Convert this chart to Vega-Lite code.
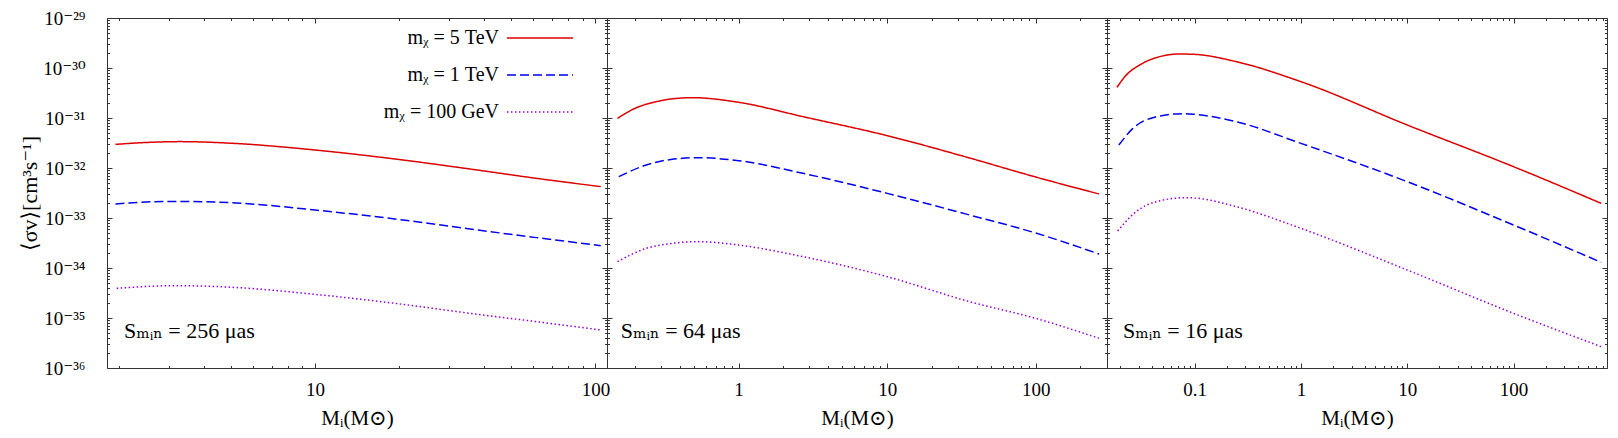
{
  "$schema": "https://vega.github.io/schema/vega-lite/v6.json",
  "background": "white",
  "padding": {"left": 18, "top": 8, "right": 10, "bottom": 5},
  "bounds": "flush",
  "datasets": {
    "curves": [
      {"panel": "p1", "series": "mᵪ = 5 TeV", "M": 1.94, "sv": 2.97e-32},
      {"panel": "p1", "series": "mᵪ = 5 TeV", "M": 2.5, "sv": 3.24e-32},
      {"panel": "p1", "series": "mᵪ = 5 TeV", "M": 3.29, "sv": 3.37e-32},
      {"panel": "p1", "series": "mᵪ = 5 TeV", "M": 5.23, "sv": 3.09e-32},
      {"panel": "p1", "series": "mᵪ = 5 TeV", "M": 10, "sv": 2.29e-32},
      {"panel": "p1", "series": "mᵪ = 5 TeV", "M": 20.6, "sv": 1.445e-32},
      {"panel": "p1", "series": "mᵪ = 5 TeV", "M": 35.7, "sv": 9.55e-33},
      {"panel": "p1", "series": "mᵪ = 5 TeV", "M": 61.6, "sv": 6.21e-33},
      {"panel": "p1", "series": "mᵪ = 5 TeV", "M": 104.5, "sv": 4.24e-33},
      {"panel": "p1", "series": "mᵪ = 1 TeV", "M": 1.94, "sv": 1.905e-33},
      {"panel": "p1", "series": "mᵪ = 1 TeV", "M": 2.5, "sv": 2.09e-33},
      {"panel": "p1", "series": "mᵪ = 1 TeV", "M": 3.2, "sv": 2.15e-33},
      {"panel": "p1", "series": "mᵪ = 1 TeV", "M": 5.23, "sv": 2.0e-33},
      {"panel": "p1", "series": "mᵪ = 1 TeV", "M": 10, "sv": 1.445e-33},
      {"panel": "p1", "series": "mᵪ = 1 TeV", "M": 20.6, "sv": 9.12e-34},
      {"panel": "p1", "series": "mᵪ = 1 TeV", "M": 35.7, "sv": 6.03e-34},
      {"panel": "p1", "series": "mᵪ = 1 TeV", "M": 61.6, "sv": 4.05e-34},
      {"panel": "p1", "series": "mᵪ = 1 TeV", "M": 104.5, "sv": 2.8e-34},
      {"panel": "p1", "series": "mᵪ = 100 GeV", "M": 1.96, "sv": 3.92e-35},
      {"panel": "p1", "series": "mᵪ = 100 GeV", "M": 2.5, "sv": 4.27e-35},
      {"panel": "p1", "series": "mᵪ = 100 GeV", "M": 3.2, "sv": 4.44e-35},
      {"panel": "p1", "series": "mᵪ = 100 GeV", "M": 5.23, "sv": 4.07e-35},
      {"panel": "p1", "series": "mᵪ = 100 GeV", "M": 10, "sv": 2.97e-35},
      {"panel": "p1", "series": "mᵪ = 100 GeV", "M": 20.6, "sv": 1.875e-35},
      {"panel": "p1", "series": "mᵪ = 100 GeV", "M": 35.7, "sv": 1.24e-35},
      {"panel": "p1", "series": "mᵪ = 100 GeV", "M": 61.6, "sv": 8.45e-36},
      {"panel": "p1", "series": "mᵪ = 100 GeV", "M": 104.5, "sv": 5.75e-36},
      {"panel": "p2", "series": "mᵪ = 5 TeV", "M": 0.153, "sv": 9.84e-32},
      {"panel": "p2", "series": "mᵪ = 5 TeV", "M": 0.194, "sv": 1.49e-31},
      {"panel": "p2", "series": "mᵪ = 5 TeV", "M": 0.294, "sv": 2.19e-31},
      {"panel": "p2", "series": "mᵪ = 5 TeV", "M": 0.35, "sv": 2.4e-31},
      {"panel": "p2", "series": "mᵪ = 5 TeV", "M": 0.492, "sv": 2.55e-31},
      {"panel": "p2", "series": "mᵪ = 5 TeV", "M": 1, "sv": 2.06e-31},
      {"panel": "p2", "series": "mᵪ = 5 TeV", "M": 2.71, "sv": 1.064e-31},
      {"panel": "p2", "series": "mᵪ = 5 TeV", "M": 10, "sv": 4.44e-32},
      {"panel": "p2", "series": "mᵪ = 5 TeV", "M": 35.9, "sv": 1.585e-32},
      {"panel": "p2", "series": "mᵪ = 5 TeV", "M": 100, "sv": 6.6e-33},
      {"panel": "p2", "series": "mᵪ = 5 TeV", "M": 267, "sv": 3.02e-33},
      {"panel": "p2", "series": "mᵪ = 1 TeV", "M": 0.156, "sv": 6.71e-33},
      {"panel": "p2", "series": "mᵪ = 1 TeV", "M": 0.239, "sv": 1.148e-32},
      {"panel": "p2", "series": "mᵪ = 1 TeV", "M": 0.35, "sv": 1.48e-32},
      {"panel": "p2", "series": "mᵪ = 1 TeV", "M": 0.532, "sv": 1.61e-32},
      {"panel": "p2", "series": "mᵪ = 1 TeV", "M": 1, "sv": 1.403e-32},
      {"panel": "p2", "series": "mᵪ = 1 TeV", "M": 2.71, "sv": 7.82e-33},
      {"panel": "p2", "series": "mᵪ = 1 TeV", "M": 10, "sv": 3.11e-33},
      {"panel": "p2", "series": "mᵪ = 1 TeV", "M": 35.9, "sv": 1.148e-33},
      {"panel": "p2", "series": "mᵪ = 1 TeV", "M": 100, "sv": 5.01e-34},
      {"panel": "p2", "series": "mᵪ = 1 TeV", "M": 267, "sv": 1.905e-34},
      {"panel": "p2", "series": "mᵪ = 100 GeV", "M": 0.153, "sv": 1.34e-34},
      {"panel": "p2", "series": "mᵪ = 100 GeV", "M": 0.239, "sv": 2.47e-34},
      {"panel": "p2", "series": "mᵪ = 100 GeV", "M": 0.35, "sv": 3.09e-34},
      {"panel": "p2", "series": "mᵪ = 100 GeV", "M": 0.532, "sv": 3.37e-34},
      {"panel": "p2", "series": "mᵪ = 100 GeV", "M": 1, "sv": 2.88e-34},
      {"panel": "p2", "series": "mᵪ = 100 GeV", "M": 2.71, "sv": 1.687e-34},
      {"panel": "p2", "series": "mᵪ = 100 GeV", "M": 10, "sv": 6.71e-35},
      {"panel": "p2", "series": "mᵪ = 100 GeV", "M": 35.9, "sv": 2.12e-35},
      {"panel": "p2", "series": "mᵪ = 100 GeV", "M": 100, "sv": 9.84e-36},
      {"panel": "p2", "series": "mᵪ = 100 GeV", "M": 267, "sv": 3.92e-36},
      {"panel": "p3", "series": "mᵪ = 5 TeV", "M": 0.0186, "sv": 4.1e-31},
      {"panel": "p3", "series": "mᵪ = 5 TeV", "M": 0.0228, "sv": 7.24e-31},
      {"panel": "p3", "series": "mᵪ = 5 TeV", "M": 0.0304, "sv": 1.148e-30},
      {"panel": "p3", "series": "mᵪ = 5 TeV", "M": 0.0435, "sv": 1.61e-30},
      {"panel": "p3", "series": "mᵪ = 5 TeV", "M": 0.0722, "sv": 1.905e-30},
      {"panel": "p3", "series": "mᵪ = 5 TeV", "M": 0.1, "sv": 1.875e-30},
      {"panel": "p3", "series": "mᵪ = 5 TeV", "M": 0.246, "sv": 1.34e-30},
      {"panel": "p3", "series": "mᵪ = 5 TeV", "M": 1, "sv": 5.33e-31},
      {"panel": "p3", "series": "mᵪ = 5 TeV", "M": 10, "sv": 7.24e-32},
      {"panel": "p3", "series": "mᵪ = 5 TeV", "M": 100, "sv": 1.064e-32},
      {"panel": "p3", "series": "mᵪ = 5 TeV", "M": 668, "sv": 1.963e-33},
      {"panel": "p3", "series": "mᵪ = 1 TeV", "M": 0.0194, "sv": 2.88e-32},
      {"panel": "p3", "series": "mᵪ = 1 TeV", "M": 0.0263, "sv": 6.21e-32},
      {"panel": "p3", "series": "mᵪ = 1 TeV", "M": 0.0406, "sv": 1.016e-31},
      {"panel": "p3", "series": "mᵪ = 1 TeV", "M": 0.0776, "sv": 1.222e-31},
      {"panel": "p3", "series": "mᵪ = 1 TeV", "M": 0.1, "sv": 1.183e-31},
      {"panel": "p3", "series": "mᵪ = 1 TeV", "M": 0.246, "sv": 8.45e-32},
      {"panel": "p3", "series": "mᵪ = 1 TeV", "M": 1, "sv": 3.11e-32},
      {"panel": "p3", "series": "mᵪ = 1 TeV", "M": 10, "sv": 5.33e-33},
      {"panel": "p3", "series": "mᵪ = 1 TeV", "M": 100, "sv": 7.24e-34},
      {"panel": "p3", "series": "mᵪ = 1 TeV", "M": 668, "sv": 1.297e-34},
      {"panel": "p3", "series": "mᵪ = 100 GeV", "M": 0.0189, "sv": 5.5e-34},
      {"panel": "p3", "series": "mᵪ = 100 GeV", "M": 0.0282, "sv": 1.34e-33},
      {"panel": "p3", "series": "mᵪ = 100 GeV", "M": 0.0435, "sv": 2.12e-33},
      {"panel": "p3", "series": "mᵪ = 100 GeV", "M": 0.0834, "sv": 2.55e-33},
      {"panel": "p3", "series": "mᵪ = 100 GeV", "M": 0.1, "sv": 2.51e-33},
      {"panel": "p3", "series": "mᵪ = 100 GeV", "M": 0.246, "sv": 1.687e-33},
      {"panel": "p3", "series": "mᵪ = 100 GeV", "M": 1, "sv": 6.21e-34},
      {"panel": "p3", "series": "mᵪ = 100 GeV", "M": 10, "sv": 9.12e-35},
      {"panel": "p3", "series": "mᵪ = 100 GeV", "M": 100, "sv": 1.24e-35},
      {"panel": "p3", "series": "mᵪ = 100 GeV", "M": 668, "sv": 2.67e-36}
    ],
    "notes": [
      {"panel": "p1", "label": "Sₘᵢₙ = 256 μas"},
      {"panel": "p2", "label": "Sₘᵢₙ = 64 μas"},
      {"panel": "p3", "label": "Sₘᵢₙ = 16 μas"}
    ]
  },
  "spacing": 0,
  "hconcat": [
    {
      "width": 500, "height": 350,
      "resolve": {"axis": {"x": "independent", "y": "independent"}},
      "layer": [
        {
          "data": {"name": "curves"},
          "transform": [{"filter": "datum.panel == 'p1' && datum.series == 'mᵪ = 5 TeV'"}],
          "mark": {"type": "line", "strokeWidth": 1.5, "interpolate": "monotone"},
          "encoding": {
            "x": {"field": "M", "type": "quantitative", "scale": {"type": "log", "domain": [1.81, 110], "nice": false},
                  "axis": {"orient": "bottom", "values": [10, 100], "format": "~g", "tickSize": -5, "labelPadding": 17, "labelFlush": false, "labelOverlap": false, "title": "Mᵢ(M⊙)", "titlePadding": 8}},
            "y": {"field": "sv", "type": "quantitative", "scale": {"type": "log", "domain": [1e-36, 1e-29], "nice": false},
                  "axis": {"orient": "left", "values": [1e-36, 1e-35, 1e-34, 1e-33, 1e-32, 1e-31, 1e-30, 1e-29], "tickSize": -5, "labelPadding": 27, "labelOverlap": false,
                           "labelExpr": "'10⁻' + ['⁰','¹','²','³','⁴','⁵','⁶','⁷','⁸','⁹'][floor(round(-log(datum.value)/LN10)/10)] + ['⁰','¹','²','³','⁴','⁵','⁶','⁷','⁸','⁹'][round(-log(datum.value)/LN10)%10]",
                           "title": "⟨σv⟩[cm³s⁻¹]", "titleFontSize": 22, "titlePadding": 1}},
            "color": {"field": "series", "type": "nominal", "scale": {"domain": ["mᵪ = 5 TeV", "mᵪ = 1 TeV", "mᵪ = 100 GeV"], "range": ["#dd0000", "#0000ee", "#9400d3"]}, "legend": {"title": null}},
            "strokeDash": {"field": "series", "type": "nominal", "scale": {"domain": ["mᵪ = 5 TeV", "mᵪ = 1 TeV", "mᵪ = 100 GeV"], "range": [[1, 0], [9, 4], [1.5, 2.5]]}, "legend": {"title": null}}
          }
        },
        {
          "data": {"name": "curves"},
          "transform": [{"filter": "datum.panel == 'p1' && datum.series == 'mᵪ = 1 TeV'"}],
          "mark": {"type": "line", "strokeWidth": 1.5, "interpolate": "monotone"},
          "encoding": {
            "x": {"field": "M", "type": "quantitative", "scale": {"type": "log", "domain": [1.81, 110], "nice": false},
                  "axis": {"orient": "bottom", "values": [2,3,4,5,6,7,8,9,20,30,40,50,60,70,80,90], "labels": false, "tickSize": -2.5, "title": null}},
            "y": {"field": "sv", "type": "quantitative", "scale": {"type": "log", "domain": [1e-36, 1e-29], "nice": false},
                  "axis": {"orient": "left", "values": [2e-36,3e-36,4e-36,5e-36,6e-36,7e-36,8e-36,9e-36,2e-35,3e-35,4e-35,5e-35,6e-35,7e-35,8e-35,9e-35,2e-34,3e-34,4e-34,5e-34,6e-34,7e-34,8e-34,9e-34,2e-33,3e-33,4e-33,5e-33,6e-33,7e-33,8e-33,9e-33,2e-32,3e-32,4e-32,5e-32,6e-32,7e-32,8e-32,9e-32,2e-31,3e-31,4e-31,5e-31,6e-31,7e-31,8e-31,9e-31,2e-30,3e-30,4e-30,5e-30,6e-30,7e-30,8e-30,9e-30], "labels": false, "tickSize": -2.5, "title": null}},
            "color": {"field": "series", "type": "nominal", "scale": {"domain": ["mᵪ = 5 TeV", "mᵪ = 1 TeV", "mᵪ = 100 GeV"], "range": ["#dd0000", "#0000ee", "#9400d3"]}, "legend": {"title": null}},
            "strokeDash": {"field": "series", "type": "nominal", "scale": {"domain": ["mᵪ = 5 TeV", "mᵪ = 1 TeV", "mᵪ = 100 GeV"], "range": [[1, 0], [9, 4], [1.5, 2.5]]}, "legend": {"title": null}}
          }
        },
        {
          "data": {"name": "curves"},
          "transform": [{"filter": "datum.panel == 'p1' && datum.series == 'mᵪ = 100 GeV'"}],
          "mark": {"type": "line", "strokeWidth": 1.5, "interpolate": "monotone"},
          "encoding": {
            "x": {"field": "M", "type": "quantitative", "scale": {"type": "log", "domain": [1.81, 110], "nice": false},
                  "axis": {"orient": "top", "values": [10, 100], "labels": false, "tickSize": -5, "title": null}},
            "y": {"field": "sv", "type": "quantitative", "scale": {"type": "log", "domain": [1e-36, 1e-29], "nice": false},
                  "axis": {"orient": "right", "values": [1e-36, 1e-35, 1e-34, 1e-33, 1e-32, 1e-31, 1e-30, 1e-29], "labels": false, "tickSize": -5, "title": null}},
            "color": {"field": "series", "type": "nominal", "scale": {"domain": ["mᵪ = 5 TeV", "mᵪ = 1 TeV", "mᵪ = 100 GeV"], "range": ["#dd0000", "#0000ee", "#9400d3"]}, "legend": {"title": null}},
            "strokeDash": {"field": "series", "type": "nominal", "scale": {"domain": ["mᵪ = 5 TeV", "mᵪ = 1 TeV", "mᵪ = 100 GeV"], "range": [[1, 0], [9, 4], [1.5, 2.5]]}, "legend": {"title": null}}
          }
        },
        {
          "data": {"name": "notes"},
          "transform": [{"filter": "datum.panel == 'p1'"}],
          "mark": {"type": "text", "align": "left", "baseline": "middle", "fontSize": 22, "font": "Liberation Serif, DejaVu Serif, serif", "color": "#000"},
          "encoding": {
            "text": {"field": "label"},
            "x": {"datum": 2.08, "type": "quantitative", "scale": {"type": "log", "domain": [1.81, 110], "nice": false},
                  "axis": {"orient": "top", "values": [2,3,4,5,6,7,8,9,20,30,40,50,60,70,80,90], "labels": false, "tickSize": -2.5, "title": null}},
            "y": {"datum": 5.5e-36, "type": "quantitative", "scale": {"type": "log", "domain": [1e-36, 1e-29], "nice": false},
                  "axis": {"orient": "right", "values": [2e-36,3e-36,4e-36,5e-36,6e-36,7e-36,8e-36,9e-36,2e-35,3e-35,4e-35,5e-35,6e-35,7e-35,8e-35,9e-35,2e-34,3e-34,4e-34,5e-34,6e-34,7e-34,8e-34,9e-34,2e-33,3e-33,4e-33,5e-33,6e-33,7e-33,8e-33,9e-33,2e-32,3e-32,4e-32,5e-32,6e-32,7e-32,8e-32,9e-32,2e-31,3e-31,4e-31,5e-31,6e-31,7e-31,8e-31,9e-31,2e-30,3e-30,4e-30,5e-30,6e-30,7e-30,8e-30,9e-30], "labels": false, "tickSize": -2.5, "title": null}}
          }
        }
      ]
    },
    {
      "width": 500, "height": 350,
      "resolve": {"axis": {"x": "independent", "y": "independent"}},
      "layer": [
        {
          "data": {"name": "curves"},
          "transform": [{"filter": "datum.panel == 'p2' && datum.series == 'mᵪ = 5 TeV'"}],
          "mark": {"type": "line", "strokeWidth": 1.5, "interpolate": "monotone"},
          "encoding": {
            "x": {"field": "M", "type": "quantitative", "scale": {"type": "log", "domain": [0.13, 302], "nice": false},
                  "axis": {"orient": "bottom", "values": [1, 10, 100], "format": "~g", "tickSize": -5, "labelPadding": 17, "labelFlush": false, "labelOverlap": false, "title": "Mᵢ(M⊙)", "titlePadding": 8}},
            "y": {"field": "sv", "type": "quantitative", "scale": {"type": "log", "domain": [1e-36, 1e-29], "nice": false},
                  "axis": {"orient": "left", "values": [1e-36, 1e-35, 1e-34, 1e-33, 1e-32, 1e-31, 1e-30, 1e-29], "labels": false, "tickSize": -5, "title": null}},
            "color": {"field": "series", "type": "nominal", "scale": {"domain": ["mᵪ = 5 TeV", "mᵪ = 1 TeV", "mᵪ = 100 GeV"], "range": ["#dd0000", "#0000ee", "#9400d3"]}, "legend": {"title": null}},
            "strokeDash": {"field": "series", "type": "nominal", "scale": {"domain": ["mᵪ = 5 TeV", "mᵪ = 1 TeV", "mᵪ = 100 GeV"], "range": [[1, 0], [9, 4], [1.5, 2.5]]}, "legend": {"title": null}}
          }
        },
        {
          "data": {"name": "curves"},
          "transform": [{"filter": "datum.panel == 'p2' && datum.series == 'mᵪ = 1 TeV'"}],
          "mark": {"type": "line", "strokeWidth": 1.5, "interpolate": "monotone"},
          "encoding": {
            "x": {"field": "M", "type": "quantitative", "scale": {"type": "log", "domain": [0.13, 302], "nice": false},
                  "axis": {"orient": "bottom", "values": [0.2,0.3,0.4,0.5,0.6,0.7,0.8,0.9,2,3,4,5,6,7,8,9,20,30,40,50,60,70,80,90,200,300], "labels": false, "tickSize": -2.5, "title": null}},
            "y": {"field": "sv", "type": "quantitative", "scale": {"type": "log", "domain": [1e-36, 1e-29], "nice": false},
                  "axis": {"orient": "left", "values": [2e-36,3e-36,4e-36,5e-36,6e-36,7e-36,8e-36,9e-36,2e-35,3e-35,4e-35,5e-35,6e-35,7e-35,8e-35,9e-35,2e-34,3e-34,4e-34,5e-34,6e-34,7e-34,8e-34,9e-34,2e-33,3e-33,4e-33,5e-33,6e-33,7e-33,8e-33,9e-33,2e-32,3e-32,4e-32,5e-32,6e-32,7e-32,8e-32,9e-32,2e-31,3e-31,4e-31,5e-31,6e-31,7e-31,8e-31,9e-31,2e-30,3e-30,4e-30,5e-30,6e-30,7e-30,8e-30,9e-30], "labels": false, "tickSize": -2.5, "title": null}},
            "color": {"field": "series", "type": "nominal", "scale": {"domain": ["mᵪ = 5 TeV", "mᵪ = 1 TeV", "mᵪ = 100 GeV"], "range": ["#dd0000", "#0000ee", "#9400d3"]}, "legend": {"title": null}},
            "strokeDash": {"field": "series", "type": "nominal", "scale": {"domain": ["mᵪ = 5 TeV", "mᵪ = 1 TeV", "mᵪ = 100 GeV"], "range": [[1, 0], [9, 4], [1.5, 2.5]]}, "legend": {"title": null}}
          }
        },
        {
          "data": {"name": "curves"},
          "transform": [{"filter": "datum.panel == 'p2' && datum.series == 'mᵪ = 100 GeV'"}],
          "mark": {"type": "line", "strokeWidth": 1.5, "interpolate": "monotone"},
          "encoding": {
            "x": {"field": "M", "type": "quantitative", "scale": {"type": "log", "domain": [0.13, 302], "nice": false},
                  "axis": {"orient": "top", "values": [1, 10, 100], "labels": false, "tickSize": -5, "title": null}},
            "y": {"field": "sv", "type": "quantitative", "scale": {"type": "log", "domain": [1e-36, 1e-29], "nice": false},
                  "axis": {"orient": "right", "values": [1e-36, 1e-35, 1e-34, 1e-33, 1e-32, 1e-31, 1e-30, 1e-29], "labels": false, "tickSize": -5, "title": null}},
            "color": {"field": "series", "type": "nominal", "scale": {"domain": ["mᵪ = 5 TeV", "mᵪ = 1 TeV", "mᵪ = 100 GeV"], "range": ["#dd0000", "#0000ee", "#9400d3"]}, "legend": {"title": null}},
            "strokeDash": {"field": "series", "type": "nominal", "scale": {"domain": ["mᵪ = 5 TeV", "mᵪ = 1 TeV", "mᵪ = 100 GeV"], "range": [[1, 0], [9, 4], [1.5, 2.5]]}, "legend": {"title": null}}
          }
        },
        {
          "data": {"name": "notes"},
          "transform": [{"filter": "datum.panel == 'p2'"}],
          "mark": {"type": "text", "align": "left", "baseline": "middle", "fontSize": 22, "font": "Liberation Serif, DejaVu Serif, serif", "color": "#000"},
          "encoding": {
            "text": {"field": "label"},
            "x": {"datum": 0.161, "type": "quantitative", "scale": {"type": "log", "domain": [0.13, 302], "nice": false},
                  "axis": {"orient": "top", "values": [0.2,0.3,0.4,0.5,0.6,0.7,0.8,0.9,2,3,4,5,6,7,8,9,20,30,40,50,60,70,80,90,200,300], "labels": false, "tickSize": -2.5, "title": null}},
            "y": {"datum": 5.5e-36, "type": "quantitative", "scale": {"type": "log", "domain": [1e-36, 1e-29], "nice": false},
                  "axis": {"orient": "right", "values": [2e-36,3e-36,4e-36,5e-36,6e-36,7e-36,8e-36,9e-36,2e-35,3e-35,4e-35,5e-35,6e-35,7e-35,8e-35,9e-35,2e-34,3e-34,4e-34,5e-34,6e-34,7e-34,8e-34,9e-34,2e-33,3e-33,4e-33,5e-33,6e-33,7e-33,8e-33,9e-33,2e-32,3e-32,4e-32,5e-32,6e-32,7e-32,8e-32,9e-32,2e-31,3e-31,4e-31,5e-31,6e-31,7e-31,8e-31,9e-31,2e-30,3e-30,4e-30,5e-30,6e-30,7e-30,8e-30,9e-30], "labels": false, "tickSize": -2.5, "title": null}}
          }
        }
      ]
    },
    {
      "width": 500, "height": 350,
      "resolve": {"axis": {"x": "independent", "y": "independent"}},
      "layer": [
        {
          "data": {"name": "curves"},
          "transform": [{"filter": "datum.panel == 'p3' && datum.series == 'mᵪ = 5 TeV'"}],
          "mark": {"type": "line", "strokeWidth": 1.5, "interpolate": "monotone"},
          "encoding": {
            "x": {"field": "M", "type": "quantitative", "scale": {"type": "log", "domain": [0.015, 757], "nice": false},
                  "axis": {"orient": "bottom", "values": [0.1, 1, 10, 100], "format": "~g", "tickSize": -5, "labelPadding": 17, "labelFlush": false, "labelOverlap": false, "title": "Mᵢ(M⊙)", "titlePadding": 8}},
            "y": {"field": "sv", "type": "quantitative", "scale": {"type": "log", "domain": [1e-36, 1e-29], "nice": false},
                  "axis": {"orient": "left", "values": [1e-36, 1e-35, 1e-34, 1e-33, 1e-32, 1e-31, 1e-30, 1e-29], "labels": false, "tickSize": -5, "title": null}},
            "color": {"field": "series", "type": "nominal", "scale": {"domain": ["mᵪ = 5 TeV", "mᵪ = 1 TeV", "mᵪ = 100 GeV"], "range": ["#dd0000", "#0000ee", "#9400d3"]}, "legend": {"title": null}},
            "strokeDash": {"field": "series", "type": "nominal", "scale": {"domain": ["mᵪ = 5 TeV", "mᵪ = 1 TeV", "mᵪ = 100 GeV"], "range": [[1, 0], [9, 4], [1.5, 2.5]]}, "legend": {"title": null}}
          }
        },
        {
          "data": {"name": "curves"},
          "transform": [{"filter": "datum.panel == 'p3' && datum.series == 'mᵪ = 1 TeV'"}],
          "mark": {"type": "line", "strokeWidth": 1.5, "interpolate": "monotone"},
          "encoding": {
            "x": {"field": "M", "type": "quantitative", "scale": {"type": "log", "domain": [0.015, 757], "nice": false},
                  "axis": {"orient": "bottom", "values": [0.02,0.03,0.04,0.05,0.06,0.07,0.08,0.09,0.2,0.3,0.4,0.5,0.6,0.7,0.8,0.9,2,3,4,5,6,7,8,9,20,30,40,50,60,70,80,90,200,300,400,500,600,700], "labels": false, "tickSize": -2.5, "title": null}},
            "y": {"field": "sv", "type": "quantitative", "scale": {"type": "log", "domain": [1e-36, 1e-29], "nice": false},
                  "axis": {"orient": "left", "values": [2e-36,3e-36,4e-36,5e-36,6e-36,7e-36,8e-36,9e-36,2e-35,3e-35,4e-35,5e-35,6e-35,7e-35,8e-35,9e-35,2e-34,3e-34,4e-34,5e-34,6e-34,7e-34,8e-34,9e-34,2e-33,3e-33,4e-33,5e-33,6e-33,7e-33,8e-33,9e-33,2e-32,3e-32,4e-32,5e-32,6e-32,7e-32,8e-32,9e-32,2e-31,3e-31,4e-31,5e-31,6e-31,7e-31,8e-31,9e-31,2e-30,3e-30,4e-30,5e-30,6e-30,7e-30,8e-30,9e-30], "labels": false, "tickSize": -2.5, "title": null}},
            "color": {"field": "series", "type": "nominal", "scale": {"domain": ["mᵪ = 5 TeV", "mᵪ = 1 TeV", "mᵪ = 100 GeV"], "range": ["#dd0000", "#0000ee", "#9400d3"]}, "legend": {"title": null}},
            "strokeDash": {"field": "series", "type": "nominal", "scale": {"domain": ["mᵪ = 5 TeV", "mᵪ = 1 TeV", "mᵪ = 100 GeV"], "range": [[1, 0], [9, 4], [1.5, 2.5]]}, "legend": {"title": null}}
          }
        },
        {
          "data": {"name": "curves"},
          "transform": [{"filter": "datum.panel == 'p3' && datum.series == 'mᵪ = 100 GeV'"}],
          "mark": {"type": "line", "strokeWidth": 1.5, "interpolate": "monotone"},
          "encoding": {
            "x": {"field": "M", "type": "quantitative", "scale": {"type": "log", "domain": [0.015, 757], "nice": false},
                  "axis": {"orient": "top", "values": [0.1, 1, 10, 100], "labels": false, "tickSize": -5, "title": null}},
            "y": {"field": "sv", "type": "quantitative", "scale": {"type": "log", "domain": [1e-36, 1e-29], "nice": false},
                  "axis": {"orient": "right", "values": [1e-36, 1e-35, 1e-34, 1e-33, 1e-32, 1e-31, 1e-30, 1e-29], "labels": false, "tickSize": -5, "title": null}},
            "color": {"field": "series", "type": "nominal", "scale": {"domain": ["mᵪ = 5 TeV", "mᵪ = 1 TeV", "mᵪ = 100 GeV"], "range": ["#dd0000", "#0000ee", "#9400d3"]}, "legend": {"title": null}},
            "strokeDash": {"field": "series", "type": "nominal", "scale": {"domain": ["mᵪ = 5 TeV", "mᵪ = 1 TeV", "mᵪ = 100 GeV"], "range": [[1, 0], [9, 4], [1.5, 2.5]]}, "legend": {"title": null}}
          }
        },
        {
          "data": {"name": "notes"},
          "transform": [{"filter": "datum.panel == 'p3'"}],
          "mark": {"type": "text", "align": "left", "baseline": "middle", "fontSize": 22, "font": "Liberation Serif, DejaVu Serif, serif", "color": "#000"},
          "encoding": {
            "text": {"field": "label"},
            "x": {"datum": 0.0212, "type": "quantitative", "scale": {"type": "log", "domain": [0.015, 757], "nice": false},
                  "axis": {"orient": "top", "values": [0.02,0.03,0.04,0.05,0.06,0.07,0.08,0.09,0.2,0.3,0.4,0.5,0.6,0.7,0.8,0.9,2,3,4,5,6,7,8,9,20,30,40,50,60,70,80,90,200,300,400,500,600,700], "labels": false, "tickSize": -2.5, "title": null}},
            "y": {"datum": 5.5e-36, "type": "quantitative", "scale": {"type": "log", "domain": [1e-36, 1e-29], "nice": false},
                  "axis": {"orient": "right", "values": [2e-36,3e-36,4e-36,5e-36,6e-36,7e-36,8e-36,9e-36,2e-35,3e-35,4e-35,5e-35,6e-35,7e-35,8e-35,9e-35,2e-34,3e-34,4e-34,5e-34,6e-34,7e-34,8e-34,9e-34,2e-33,3e-33,4e-33,5e-33,6e-33,7e-33,8e-33,9e-33,2e-32,3e-32,4e-32,5e-32,6e-32,7e-32,8e-32,9e-32,2e-31,3e-31,4e-31,5e-31,6e-31,7e-31,8e-31,9e-31,2e-30,3e-30,4e-30,5e-30,6e-30,7e-30,8e-30,9e-30], "labels": false, "tickSize": -2.5, "title": null}}
          }
        }
      ]
    }
  ],
  "config": {
    "font": "Liberation Serif, DejaVu Serif, serif",
    "view": {"stroke": "#333333", "strokeWidth": 1},
    "concat": {"spacing": 0},
    "axis": {"grid": false, "domain": false, "tickColor": "#333333", "tickWidth": 1,
             "labelFont": "Liberation Serif, DejaVu Serif, serif", "labelFontSize": 19, "labelColor": "#000000",
             "titleFont": "Liberation Serif, DejaVu Serif, serif", "titleFontSize": 21, "titleFontWeight": "normal", "titleColor": "#000000"},
    "legend": {"orient": "none", "legendX": 421, "legendY": 8, "symbolType": "M-3,0H3", "symbolSize": 484,
               "symbolStrokeWidth": 1.5, "labelAlign": "right", "labelOffset": -53, "labelFont": "Liberation Serif, DejaVu Serif, serif",
               "labelFontSize": 20, "labelColor": "#000000", "labelLimit": 0, "rowPadding": 15, "padding": 0}
  }
}
